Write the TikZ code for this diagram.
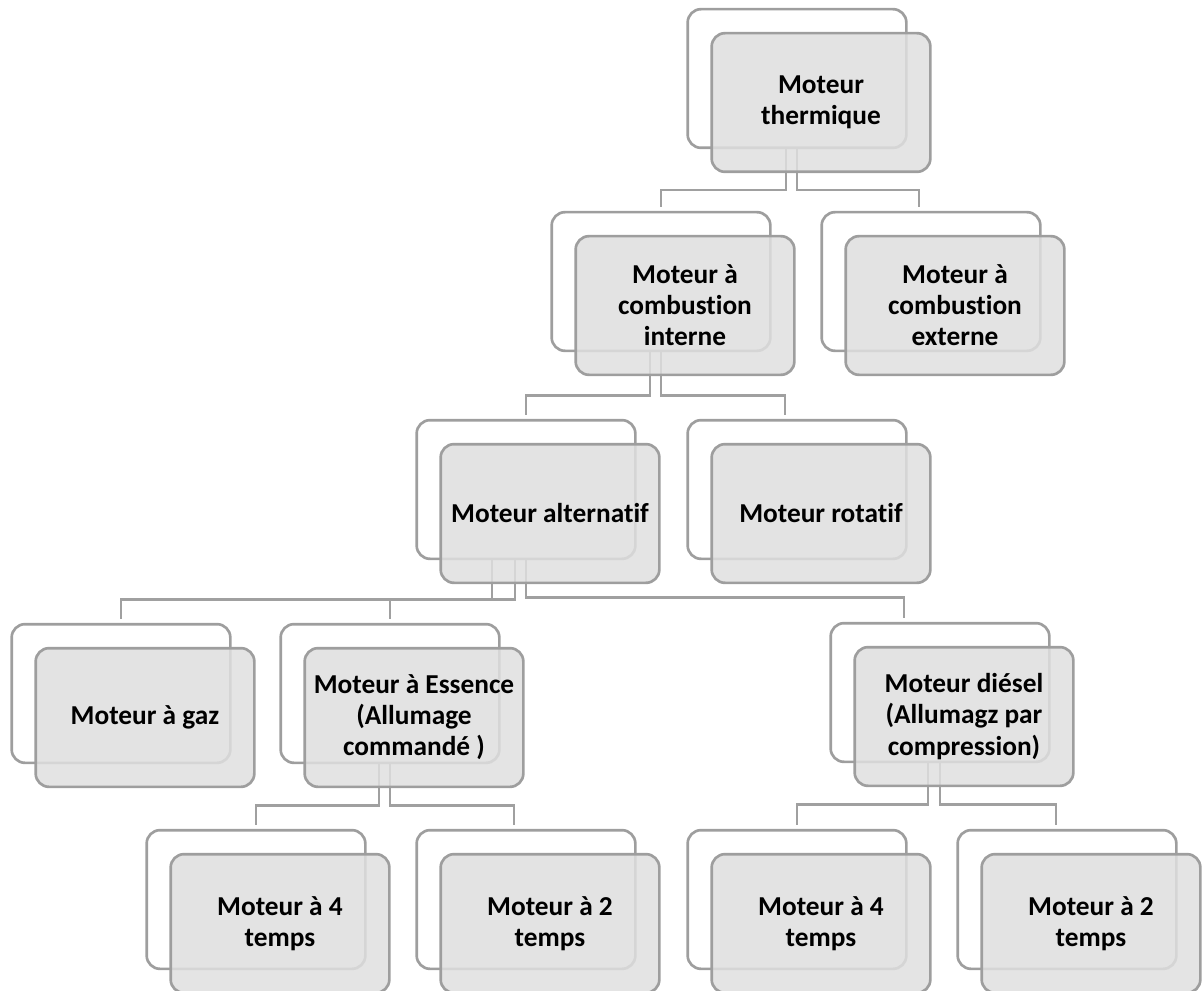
\documentclass[tikz,border=0pt]{standalone}
\usepackage{fontspec}
\setmainfont{Carlito}[Ligatures={NoCommon}]
\usetikzlibrary{calc}
\definecolor{boxline}{HTML}{9E9E9E}
\definecolor{boxfill}{HTML}{DFDFDF}
\definecolor{linkgray}{HTML}{A0A0A0}

\begin{document}
\begin{tikzpicture}[x=0.75pt,y=-0.75pt,
        backbox/.style={draw=boxline,line width=2pt,fill=white,rounded corners=10pt,
            minimum width=164pt,minimum height=104pt},
        frontbox/.style={backbox,fill=boxfill,fill opacity=0.85,text opacity=1,align=center,
            font=\bfseries\fontsize{20.5}{23.3}\selectfont},
        link/.style={draw=linkgray,line width=2pt}]
        \useasboundingbox (0,0) rectangle (1202,991);
        % cadres arriere
        \node[backbox] (thermB) at (797,78.5) {};
        \node[backbox] (interneB) at (661,281.5) {};
        \node[backbox] (externeB) at (931,281.5) {};
        \node[backbox] (alterB) at (526,489.5) {};
        \node[backbox] (rotatB) at (797,489.5) {};
        \node[backbox] (gazB) at (121,693.5) {};
        \node[backbox] (essB) at (390,693.5) {};
        \node[backbox] (dieselB) at (940,692.5) {};
        \node[backbox] (essquatreB) at (256,899.5) {};
        \node[backbox] (essdeuxB) at (526,899.5) {};
        \node[backbox] (dieselquatreB) at (797,899.5) {};
        \node[backbox] (dieseldeuxB) at (1067,899.5) {};
        % liaisons
        \draw[link] ($(thermB.south)+(-11,0)$) -- ++(0,41) -| ($(interneB.north)+(0,-4)$);
        \draw[link] (thermB.south) -- ++(0,41) -| ($(externeB.north)+(-12,-4)$);
        \draw[link] ($(interneB.south)+(-11,0)$) -- ++(0,43) -| ($(alterB.north)+(0,-4)$);
        \draw[link] (interneB.south) -- ++(0,43) -| ($(rotatB.north)+(-12,-4)$);
        \draw[link] ($(alterB.south)+(-34,0)$) -- ++(0,39) -| ($(gazB.north)+(0,-4)$);
        \draw[link] ($(alterB.south)+(-11,0)$) -- ++(0,39) -| ($(essB.north)+(0,-4)$);
        \draw[link] (alterB.south) -- ++(0,37) -| ($(dieselB.north)+(-36,-4)$);
        \draw[link] ($(essB.south)+(-11,0)$) -- ++(0,41) -| ($(essquatreB.north)+(0,-4)$);
        \draw[link] (essB.south) -- ++(0,41) -| ($(essdeuxB.north)+(-12,-4)$);
        \draw[link] ($(dieselB.south)+(-12,0)$) -- ++(0,41) -| ($(dieselquatreB.north)+(0,-4)$);
        \draw[link] (dieselB.south) -- ++(0,41) -| ($(dieseldeuxB.north)+(-11,-4)$);
        % cadres avant
        \node[frontbox] (therm) at (821,102.5) {Moteur\\thermique};
        \node[frontbox] (interne) at (685,305.5) {Moteur à\\combustion\\interne};
        \node[frontbox] (externe) at (955,305.5) {Moteur à\\combustion\\externe};
        \node[frontbox] (alter) at (550,513.5) {Moteur alternatif};
        \node[frontbox] (rotat) at (821,513.5) {Moteur rotatif};
        \node[frontbox] (gaz) at (145,717.5) {Moteur à gaz};
        \node[frontbox] (ess) at (414,717.5) {Moteur à Essence\\(Allumage\\commandé )};
        \node[frontbox] (diesel) at (964,716.5) {Moteur diésel\\(Allumagz par\\compression)};
        \node[frontbox] (essquatre) at (280,923.5) {Moteur à 4\\temps};
        \node[frontbox] (essdeux) at (550,923.5) {Moteur à 2\\temps};
        \node[frontbox] (dieselquatre) at (821,923.5) {Moteur à 4\\temps};
        \node[frontbox] (dieseldeux) at (1091,923.5) {Moteur à 2\\temps};
\end{tikzpicture}
\end{document}
